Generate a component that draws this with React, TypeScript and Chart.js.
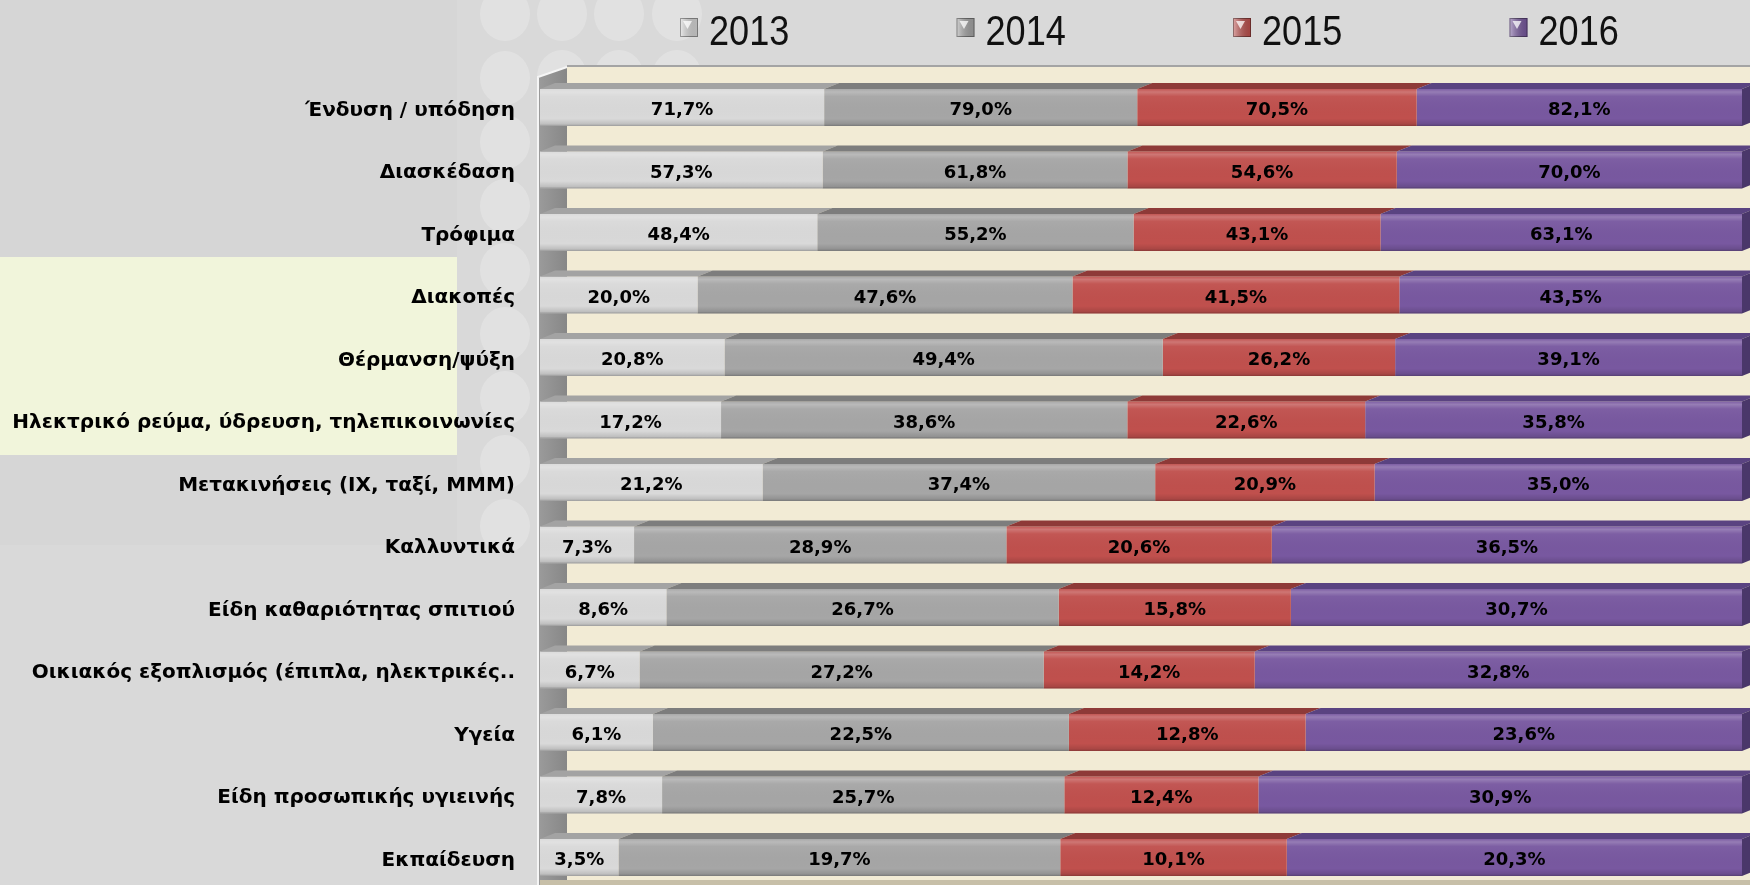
import React, { useEffect, useRef } from "react";
import { Chart, registerables } from "chart.js";
Chart.register(...registerables);

const categories = [
  "Ένδυση / υπόδηση",
  "Διασκέδαση",
  "Τρόφιμα",
  "Διακοπές",
  "Θέρμανση/ψύξη",
  "Ηλεκτρικό ρεύμα, ύδρευση, τηλεπικοινωνίες",
  "Μετακινήσεις (ΙΧ, ταξί, ΜΜΜ)",
  "Καλλυντικά",
  "Είδη καθαριότητας σπιτιού",
  "Οικιακός εξοπλισμός (έπιπλα, ηλεκτρικές..",
  "Υγεία",
  "Είδη προσωπικής υγιεινής",
  "Εκπαίδευση",
];
const years = ["2013", "2014", "2015", "2016"];
const v2013 = [71.7, 57.3, 48.4, 20.0, 20.8, 17.2, 21.2, 7.3, 8.6, 6.7, 6.1, 7.8, 3.5];
const v2014 = [79.0, 61.8, 55.2, 47.6, 49.4, 38.6, 37.4, 28.9, 26.7, 27.2, 22.5, 25.7, 19.7];
const v2015 = [70.5, 54.6, 43.1, 41.5, 26.2, 22.6, 20.9, 20.6, 15.8, 14.2, 12.8, 12.4, 10.1];
const v2016 = [82.1, 70.0, 63.1, 43.5, 39.1, 35.8, 35.0, 36.5, 30.7, 32.8, 23.6, 30.9, 20.3];

const series = [v2013, v2014, v2015, v2016];
const frontColors = ["#d9d9d9", "#a6a6a6", "#c0504d", "#7858a0"];
const topColors = ["#a3a3a3", "#7d7d7d", "#8e3a38", "#5a4381"];
const sideColors = ["#9a9a9a", "#707070", "#7e3331", "#4a376a"];

const DX = 15;
const DY = 6;
const CANVAS_H = 929;

const fmt = (v: number) => v.toFixed(1).replace(".", ",") + "%";

const bgPlugin = {
  id: "bg3d",
  beforeDraw(chart: any) {
    const { ctx, chartArea: ca, width, height } = chart;
    ctx.save();
    ctx.fillStyle = "#d9d9d9";
    ctx.fillRect(0, 0, width, height);
    ctx.fillStyle = "#d6d6d6";
    ctx.fillRect(0, 0, 457, 545);
    ctx.fillStyle = "#f1f5db";
    ctx.fillRect(0, 257, 457, 198);
    // decorative circles
    ctx.fillStyle = "rgba(255,255,255,0.22)";
    const circ = (x: number, y: number) => {
      ctx.beginPath();
      ctx.ellipse(x, y, 25, 27, 0, 0, Math.PI * 2);
      ctx.fill();
    };
    for (let r = 0; r < 9; r++) circ(505, 14 + r * 64);
    for (const x of [562, 619, 677]) {
      circ(x, 14);
      circ(x, 77);
    }
    const left = ca.left;
    const wallX = left + 27;
    const wallTop = 67;
    const floorY = 880;
    // back wall
    ctx.fillStyle = "#f2ebd5";
    ctx.fillRect(wallX, wallTop, width - wallX, floorY - wallTop);
    // top border of back wall
    ctx.fillStyle = "#a4a4a4";
    ctx.fillRect(wallX, wallTop - 2, width - wallX, 2);
    // left wall
    const lg = ctx.createLinearGradient(left, 0, wallX, 0);
    lg.addColorStop(0, "#9a9a9a");
    lg.addColorStop(1, "#878787");
    ctx.fillStyle = lg;
    ctx.beginPath();
    ctx.moveTo(left - 2, wallTop + 10);
    ctx.lineTo(wallX, wallTop);
    ctx.lineTo(wallX, floorY);
    ctx.lineTo(left - 2, floorY + 10);
    ctx.closePath();
    ctx.fill();
    // floor
    ctx.fillStyle = "#c7bfa8";
    ctx.fillRect(left, floorY, width - left, height - floorY);
    // axis edge line
    ctx.strokeStyle = "#f5f5f5";
    ctx.lineWidth = 2;
    ctx.beginPath();
    ctx.moveTo(left - 2, height);
    ctx.lineTo(left - 2, wallTop + 10);
    ctx.lineTo(wallX, wallTop);
    ctx.stroke();
    ctx.restore();
  },
};

const facesPlugin = {
  id: "faces3d",
  afterDatasetsDraw(chart: any) {
    const { ctx } = chart;
    const last = chart.data.datasets.length - 1;
    ctx.save();
    chart.data.datasets.forEach((ds: any, di: number) => {
      const meta = chart.getDatasetMeta(di);
      meta.data.forEach((el: any) => {
        const { x, base, y, height } = el.getProps(["x", "base", "y", "height"], true);
        const x0 = Math.min(x, base);
        const x1 = Math.max(x, base);
        const top = y - height / 2;
        const bot = y + height / 2;
        const g = ctx.createLinearGradient(0, top, 0, bot);
        g.addColorStop(0, "rgba(255,255,255,0.05)");
        g.addColorStop(0.08, "rgba(255,255,255,0.22)");
        g.addColorStop(0.2, "rgba(255,255,255,0.04)");
        g.addColorStop(0.8, "rgba(0,0,0,0.0)");
        g.addColorStop(0.95, "rgba(0,0,0,0.12)");
        g.addColorStop(1, "rgba(0,0,0,0.3)");
        ctx.fillStyle = g;
        ctx.fillRect(x0, top, x1 - x0, height);
        ctx.fillStyle = topColors[di];
        ctx.beginPath();
        ctx.moveTo(x0, top);
        ctx.lineTo(x0 + DX, top - DY);
        ctx.lineTo(x1 + DX, top - DY);
        ctx.lineTo(x1, top);
        ctx.closePath();
        ctx.fill();
        if (di === last) {
          ctx.fillStyle = sideColors[di];
          ctx.beginPath();
          ctx.moveTo(x1, top);
          ctx.lineTo(x1 + DX, top - DY);
          ctx.lineTo(x1 + DX, bot - DY);
          ctx.lineTo(x1, bot);
          ctx.closePath();
          ctx.fill();
        }
      });
    });
    // value labels
    ctx.fillStyle = "#000";
    ctx.font = 'bold 18px "DejaVu Sans"';
    ctx.textAlign = "center";
    ctx.textBaseline = "middle";
    chart.data.datasets.forEach((ds: any, di: number) => {
      const meta = chart.getDatasetMeta(di);
      meta.data.forEach((el: any, i: number) => {
        const { x, base, y } = el.getProps(["x", "base", "y"], true);
        ctx.fillText(fmt(series[di][i]), (x + base) / 2, y + 3);
      });
    });
    ctx.restore();
  },
};

const legendPlugin = {
  id: "legendCustom",
  afterDraw(chart: any) {
    const { ctx } = chart;
    ctx.save();
    years.forEach((yr, i) => {
      const bx = 680 + i * 276.5;
      const by = 18;
      const g = ctx.createLinearGradient(bx, 0, bx + 18, 0);
      g.addColorStop(0, "rgba(255,255,255,0.5)");
      g.addColorStop(1, "rgba(0,0,0,0.15)");
      ctx.fillStyle = frontColors[i];
      ctx.fillRect(bx, by, 18, 19);
      ctx.fillStyle = g;
      ctx.fillRect(bx, by, 18, 19);
      ctx.fillStyle = "rgba(255,255,255,0.75)";
      ctx.beginPath();
      ctx.moveTo(bx + 3, by + 3);
      ctx.lineTo(bx + 12, by + 3);
      ctx.lineTo(bx + 7.5, by + 11);
      ctx.closePath();
      ctx.fill();
      ctx.strokeStyle = "rgba(0,0,0,0.35)";
      ctx.lineWidth = 1;
      ctx.strokeRect(bx + 0.5, by + 0.5, 17, 18);
      ctx.save();
      ctx.translate(bx + 29, 45);
      ctx.scale(0.84, 1);
      ctx.fillStyle = "#111";
      ctx.font = '43px "Liberation Sans"';
      ctx.textAlign = "left";
      ctx.textBaseline = "alphabetic";
      ctx.fillText(yr, 0, 0);
      ctx.restore();
    });
    ctx.restore();
  },
};

export default function App() {
  const ref = useRef<HTMLCanvasElement | null>(null);
  useEffect(() => {
    if (!ref.current) return;
    const totals = categories.map((_, i) => series.reduce((s, arr) => s + arr[i], 0));
    const chart = new Chart(ref.current, {
      type: "bar",
      data: {
        labels: categories,
        datasets: years.map((yr, di) => ({
          label: yr,
          data: series[di].map((v, i) => (v / totals[i]) * 100),
          backgroundColor: frontColors[di],
          borderWidth: 0,
          barPercentage: 0.59,
          categoryPercentage: 1,
        })),
      },
      options: {
        indexAxis: "y",
        responsive: false,
        maintainAspectRatio: false,
        animation: false,
        devicePixelRatio: 1,
        layout: { padding: { top: 76.25, bottom: CANVAS_H - 888.75, left: 0, right: 8 } },
        plugins: {
          legend: { display: false },
          tooltip: { enabled: false },
        },
        scales: {
          x: { stacked: true, min: 0, max: 100, display: false },
          y: {
            stacked: true,
            grid: { display: false, drawTicks: false },
            border: { display: false },
            ticks: {
              color: "#000",
              padding: 25,
              labelOffset: 3,
              font: { family: "DejaVu Sans", weight: "bold", size: 20 },
              autoSkip: false,
            },
            afterFit: (scale: any) => {
              scale.width = 540;
            },
          },
        },
      },
      plugins: [bgPlugin, facesPlugin, legendPlugin],
    });
    return () => chart.destroy();
  }, []);
  return (
    <div style={{ position: "fixed", left: 0, top: 0, width: 1750, height: 885, overflow: "hidden" }}>
      <canvas ref={ref} width={1750} height={CANVAS_H} style={{ display: "block", width: 1750, height: CANVAS_H }} />
    </div>
  );
}
